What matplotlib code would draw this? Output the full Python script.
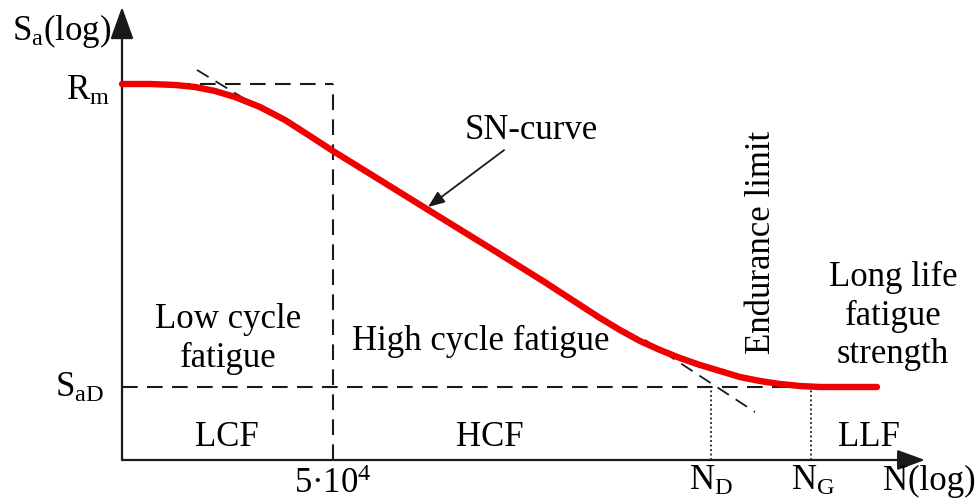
import matplotlib
matplotlib.use("Agg")
import matplotlib.pyplot as plt

plt.rcParams['font.family'] = ['Liberation Serif', 'DejaVu Serif']
plt.rcParams['mathtext.fontset'] = 'custom'
plt.rcParams['mathtext.rm'] = 'Liberation Serif'
plt.rcParams['mathtext.it'] = 'Liberation Serif:italic'

# schematic S-N curve in chart units (log N to the right, log Sa upwards)
n_curve = [0, 28, 53, 73, 93, 113, 138, 163, 188, 211, 258, 308, 368, 421,
           478, 498, 518, 538, 558, 578, 598, 618, 638, 658, 678, 698, 755]
s_curve = [376, 376, 375, 373, 369, 363, 353, 340, 324, 309, 280, 249, 212, 179,
           142, 130, 119, 110, 102, 95, 89, 83, 79, 76, 74, 73, 73]

s_rm = 376       # tensile strength level
s_ad = 73        # endurance limit level
n_lcf = 211      # 5*10^4 cycles
n_d = 589        # knee point N_D
n_g = 689        # N_G
n_axis_end = 803
s_axis_end = 453

# asymptotes of the curve
tan_top_n = [75, 136]
tan_top_s = [390, 353]
tan_bot_n = [523, 633]
tan_bot_s = [120, 48]

fig = plt.figure(figsize=(9.76, 5.03), dpi=100)
ax = fig.add_axes([0, 0, 1, 1])
ax.set_xlim(-122, 854)
ax.set_ylim(-43, 460)
ax.axis('off')

dash = (0, (7.5, 4.5))
k = '#1a1a1a'

# axes with arrow heads
ax.annotate('', xy=(0, s_axis_end), xytext=(0, 0),
            arrowprops=dict(arrowstyle='-|>,head_length=1.0,head_width=0.36', mutation_scale=20,
                            lw=1.6, color=k, shrinkA=0, shrinkB=0))
ax.annotate('', xy=(n_axis_end, 0), xytext=(0, 0),
            arrowprops=dict(arrowstyle='-|>,head_length=0.85,head_width=0.31', mutation_scale=20,
                            lw=1.6, color=k, shrinkA=0, shrinkB=0))

# region boundaries
ax.plot([53, n_lcf], [s_rm, s_rm], color=k, lw=1.5, linestyle=dash)
ax.plot([n_lcf, n_lcf], [0, s_rm], color=k, lw=1.5, linestyle=dash)
ax.plot([0, 680], [s_ad, s_ad], color=k, lw=1.5, linestyle=dash)
ax.plot([n_d, n_d], [0, s_ad], color=k, lw=1.3, linestyle=(0, (1, 1.5)))
ax.plot([n_g, n_g], [0, s_ad], color=k, lw=1.3, linestyle=(0, (1, 1.5)))
ax.plot(tan_top_n, tan_top_s, color=k, lw=1.3, linestyle=dash)
ax.plot(tan_bot_n, tan_bot_s, color=k, lw=1.3, linestyle=dash)

# S-N curve
ax.plot(n_curve, s_curve, color='#f00000', lw=4.6, solid_joinstyle='round',
        solid_capstyle='round', zorder=5)

fs = 25
ax.text(-110, 420, r'S$_\mathrm{a}$(log)', fontsize=fs, ha='left', va='baseline')
ax.text(-12, 360, r'R$_\mathrm{m}$', fontsize=fs, ha='right', va='baseline')
ax.text(-18, 63, r'S$_\mathrm{aD}$', fontsize=fs, ha='right', va='baseline')
ax.text(n_lcf, -33, '5·10$^\\mathrm{4}$', fontsize=fs, ha='center', va='baseline')
ax.text(n_d, -30, r'N$_\mathrm{D}$', fontsize=fs, ha='center', va='baseline')
ax.text(n_g + 2, -30, r'N$_\mathrm{G}$', fontsize=fs, ha='center', va='baseline')
ax.text(761, -30, 'N(log)', fontsize=fs, ha='left', va='baseline')

ax.text(105, 22, 'LCF', fontsize=fs, ha='center', va='center')
ax.text(368, 22, 'HCF', fontsize=fs, ha='center', va='center')
ax.text(747, 22, 'LLF', fontsize=fs, ha='center', va='center')

ax.text(106, 121, 'Low cycle\nfatigue', fontsize=fs, ha='center', va='center', linespacing=1.2)
ax.text(359, 119, 'High cycle fatigue', fontsize=fs, ha='center', va='center')
ax.text(640, 218, 'Endurance limit', fontsize=fs, ha='center', va='center', rotation=90)
ax.text(771, 144, 'Long life\nfatigue\nstrength', fontsize=fs, ha='center', va='center',
        linespacing=1.2)

ax.annotate('SN-curve', xy=(306, 253), xytext=(409, 330), fontsize=fs, ha='center', va='center',
            arrowprops=dict(arrowstyle='-|>,head_length=0.5,head_width=0.2', mutation_scale=20,
                            lw=1.3, color=k, shrinkA=1, shrinkB=0))

fig.savefig('out.png', dpi=100)
